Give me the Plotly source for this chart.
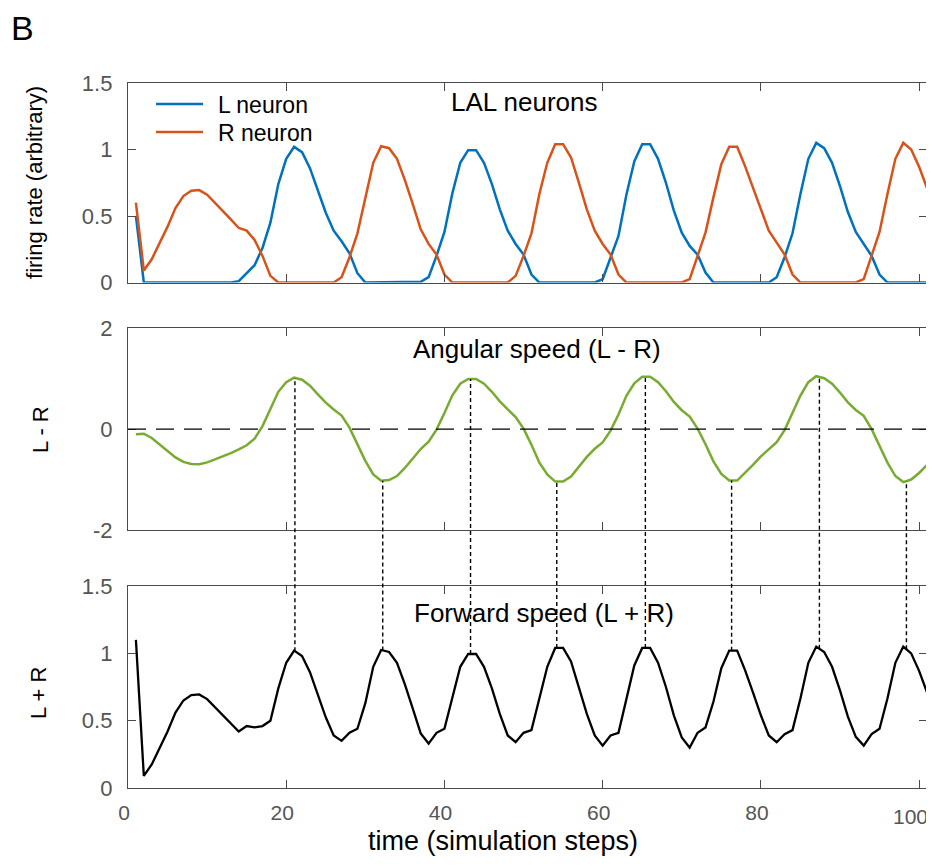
import numpy as np
import plotly.graph_objects as go

# ---------------- data ----------------
steps = list(range(1, 102))

L_neuron = [0.50] + [0]*12 + [
    0.01, 0.07, 0.13, 0.26, 0.45, 0.74, 0.93, 1.02, 0.98, 0.86, 0.69, 0.525, 0.39, 0.31, 0.22, 0.07] + [0]*7 + [
    0.005, 0.04, 0.20, 0.38, 0.67, 0.90, 0.995, 0.995, 0.90, 0.74, 0.55, 0.39, 0.29, 0.21, 0.06] + [0]*8 + [
    0.025, 0.18, 0.35, 0.66, 0.91, 1.04, 1.04, 0.93, 0.75, 0.54, 0.375, 0.275, 0.21, 0.075] + [0]*8 + [
    0.04, 0.19, 0.37, 0.665, 0.93, 1.05, 1.01, 0.90, 0.725, 0.53, 0.38, 0.29, 0.20, 0.06] + [0]*6

R_neuron = [0.60, 0.09, 0.175, 0.30, 0.42, 0.56, 0.65, 0.69, 0.695, 0.66, 0.60, 0.54, 0.475, 0.41, 0.39, 0.32,
            0.20, 0.05] + [0]*8 + [
    0.04, 0.19, 0.37, 0.63, 0.90, 1.025, 1.01, 0.93, 0.77, 0.59, 0.40, 0.29, 0.21, 0.06] + [0]*8 + [
    0.05, 0.20, 0.37, 0.665, 0.90, 1.04, 1.04, 0.94, 0.75, 0.55, 0.39, 0.29, 0.21, 0.06] + [0]*8 + [
    0.025, 0.20, 0.375, 0.64, 0.89, 1.02, 1.02, 0.875, 0.71, 0.54, 0.39, 0.30, 0.21, 0.06] + [0]*8 + [
    0.025, 0.20, 0.38, 0.665, 0.93, 1.05, 1.00, 0.87, 0.71]

angular = [-0.10, -0.09, -0.175, -0.30, -0.42, -0.56, -0.65, -0.69, -0.695, -0.66, -0.60, -0.54, -0.475,
           -0.40, -0.32, -0.19, 0.06, 0.40, 0.74, 0.93, 1.02, 0.98, 0.86, 0.69, 0.525, 0.39, 0.27, 0.03,
           -0.30, -0.63, -0.90, -1.025, -1.01, -0.93, -0.77, -0.59, -0.395, -0.25, -0.01, 0.32, 0.67, 0.90,
           0.995, 0.995, 0.90, 0.74, 0.55, 0.39, 0.24, 0.01, -0.31, -0.665, -0.90, -1.04, -1.04, -0.94,
           -0.75, -0.55, -0.39, -0.265, -0.03, 0.29, 0.66, 0.91, 1.04, 1.04, 0.93, 0.75, 0.54, 0.375, 0.25,
           0.01, -0.30, -0.64, -0.89, -1.02, -1.02, -0.875, -0.71, -0.54, -0.39, -0.26, -0.02, 0.31, 0.665,
           0.93, 1.05, 1.01, 0.90, 0.725, 0.53, 0.38, 0.265, 0.0, -0.32, -0.665, -0.93, -1.05, -1.00, -0.87,
           -0.71]

forward = [1.10, 0.09, 0.175, 0.30, 0.42, 0.56, 0.65, 0.69, 0.695, 0.66, 0.60, 0.54, 0.475, 0.42, 0.46,
           0.45, 0.46, 0.50, 0.74, 0.93, 1.02, 0.98, 0.86, 0.69, 0.525, 0.39, 0.35, 0.41, 0.44, 0.63, 0.90,
           1.025, 1.01, 0.93, 0.77, 0.59, 0.405, 0.33, 0.41, 0.44, 0.67, 0.90, 0.995, 0.995, 0.90, 0.74,
           0.55, 0.39, 0.34, 0.41, 0.43, 0.665, 0.90, 1.04, 1.04, 0.94, 0.75, 0.55, 0.39, 0.315, 0.39, 0.41,
           0.66, 0.91, 1.04, 1.04, 0.93, 0.75, 0.54, 0.375, 0.30, 0.41, 0.45, 0.64, 0.89, 1.02, 1.02, 0.875,
           0.71, 0.54, 0.39, 0.34, 0.40, 0.43, 0.665, 0.93, 1.05, 1.01, 0.90, 0.725, 0.53, 0.38, 0.315, 0.40,
           0.44, 0.665, 0.93, 1.05, 1.00, 0.87, 0.71]

marker_steps = [21.1, 32.2, 43.3, 54.2, 65.4, 76.3, 87.4, 98.4]

series_names = ["L neuron", "R neuron"]
x_ticks = [0, 20, 40, 60, 80, 100]
x_ticktext = ["0", "20", "40", "60", "80", "100"]
y1_ticks = [0, 0.5, 1, 1.5]
y2_ticks = [-2, 0, 2]
y3_ticks = [0, 0.5, 1, 1.5]

# ---------------- styling ----------------
FONT = "Liberation Sans, Arial, sans-serif"
BLUE = "#0072BD"
ORANGE = "#D95319"
GREEN = "#77AC30"
FRAME = "#4a4a4a"
TICKC = "#555555"

x_range = [0, 101]
d1 = [0.717, 1.0]
d2 = [0.366, 0.6521]
d3 = [0.0, 0.2865]
y2_range = [-2, 2]
y3_range = [0, 1.5]

fig = go.Figure()
fig.add_trace(go.Scatter(x=steps, y=L_neuron, mode="lines", name=series_names[0],
                         line=dict(color=BLUE, width=2.5), xaxis="x", yaxis="y"))
fig.add_trace(go.Scatter(x=steps, y=R_neuron, mode="lines", name=series_names[1],
                         line=dict(color=ORANGE, width=2.5), xaxis="x", yaxis="y"))
fig.add_trace(go.Scatter(x=steps, y=angular, mode="lines", name="L - R",
                         line=dict(color=GREEN, width=2.5), xaxis="x2", yaxis="y2"))
fig.add_trace(go.Scatter(x=steps, y=forward, mode="lines", name="L + R",
                         line=dict(color="black", width=2.3), xaxis="x3", yaxis="y3"))

common_x = dict(range=x_range, showline=True, linecolor=FRAME, linewidth=1.3, mirror="allticks",
                ticks="inside", ticklen=8, tickwidth=1.3, tickcolor=FRAME, tickvals=x_ticks,
                showgrid=False, zeroline=False, automargin=False,
                tickfont=dict(family=FONT, size=21, color=TICKC))
common_y = dict(showline=True, linecolor=FRAME, linewidth=1.3, mirror="allticks",
                ticks="inside", ticklen=8, tickwidth=1.3, tickcolor=FRAME,
                showgrid=False, zeroline=False, ticklabelstandoff=10, automargin=False,
                tickfont=dict(family=FONT, size=22, color=TICKC))

# the last x label sits right at the page edge, so it is placed as an annotation
bottom_ticktext = x_ticktext[:-1] + [""]

# page body has an 8px margin, so the figure is sized to fit inside the window
fig.update_layout(
    width=926, height=850,
    margin=dict(l=120, r=7, t=75, b=70),
    paper_bgcolor="white", plot_bgcolor="white",
    font=dict(family=FONT, color="black"),
    xaxis=dict(common_x, domain=[0, 1], anchor="y", showticklabels=False),
    xaxis2=dict(common_x, domain=[0, 1], anchor="y2", showticklabels=False, matches="x"),
    xaxis3=dict(common_x, domain=[0, 1], anchor="y3", showticklabels=True, ticklabelstandoff=6,
                ticklabelshift=-4, ticktext=bottom_ticktext),
    yaxis=dict(common_y, domain=d1, range=[0, 1.5], tickvals=y1_ticks, ticktext=["0", "0.5", "1", "1.5"]),
    yaxis2=dict(common_y, domain=d2, range=y2_range, tickvals=y2_ticks, ticktext=["-2", "0", "2"]),
    yaxis3=dict(common_y, domain=d3, range=y3_range, tickvals=y3_ticks, ticktext=["0", "0.5", "1", "1.5"]),
    showlegend=False,
)

last_tick_paper = (x_ticks[-1] - x_range[0]) / (x_range[1] - x_range[0])
fig.add_annotation(text=x_ticktext[-1], x=last_tick_paper, xref="paper", y=-0.0407, yref="paper",
                   showarrow=False, xanchor="center", yanchor="middle", xshift=-9,
                   font=dict(family=FONT, size=21, color=TICKC))

# legend drawn in place (line samples + labels)
legend_rows = [(series_names[0], BLUE, 0.9702, 0.9688), (series_names[1], ORANGE, 0.9305, 0.9295)]
for name, col, yl, yt in legend_rows:
    fig.add_shape(type="line", xref="paper", yref="paper", x0=0.035, x1=0.0939, y0=yl, y1=yl,
                  line=dict(color=col, width=2.5))
    fig.add_annotation(text=name, x=0.1101, y=yt, xref="paper", yref="paper", showarrow=False,
                       xanchor="left", yanchor="middle", font=dict(family=FONT, size=23, color="black"))

# dashed zero line in the angular-speed panel
fig.add_shape(type="line", xref="x2 domain", yref="y2", x0=0, x1=1, y0=0, y1=0,
              line=dict(color="black", width=1.4, dash="18px,10px"), layer="above")

# dotted connectors from angular-speed extrema down to forward-speed peaks
for t in marker_steps:
    g = float(np.interp(t, steps, angular))
    b = float(np.interp(t, steps, forward))
    y_top = d2[0] + (g - y2_range[0]) / (y2_range[1] - y2_range[0]) * (d2[1] - d2[0])
    y_bot = d3[0] + (b - y3_range[0]) / (y3_range[1] - y3_range[0]) * (d3[1] - d3[0])
    fig.add_shape(type="line", xref="x3", yref="paper", x0=t, x1=t, y0=y_bot, y1=y_top,
                  line=dict(color="black", width=1.4, dash="4px,3px"), layer="above")

ann = [
    dict(text="B", x=-0.132, y=1.0787, size=34),
    dict(text="LAL neurons", x=0.495, y=0.9732, size=26),
    dict(text="Angular speed (L - R)", x=0.512, y=0.6227, size=26),
    dict(text="Forward speed (L + R)", x=0.5203, y=0.2478, size=26),
    dict(text="time (simulation steps)", x=0.4699, y=-0.0745, size=27),
]
for a in ann:
    fig.add_annotation(text=a["text"], x=a["x"], y=a["y"], xref="paper", yref="paper",
                       showarrow=False, xanchor="center", yanchor="middle",
                       font=dict(family=FONT, size=a["size"], color="black"))

ylabels = [
    dict(text="firing rate (arbitrary)", x=-0.1164, y=0.8596),
    dict(text="L - R", x=-0.110, y=0.5078),
    dict(text="L + R", x=-0.1114, y=0.1348),
]
for a in ylabels:
    fig.add_annotation(text=a["text"], x=a["x"], y=a["y"], xref="paper", yref="paper",
                       showarrow=False, xanchor="center", yanchor="middle", textangle=-90,
                       font=dict(family=FONT, size=22, color="black"))

fig.write_html("out.html")
